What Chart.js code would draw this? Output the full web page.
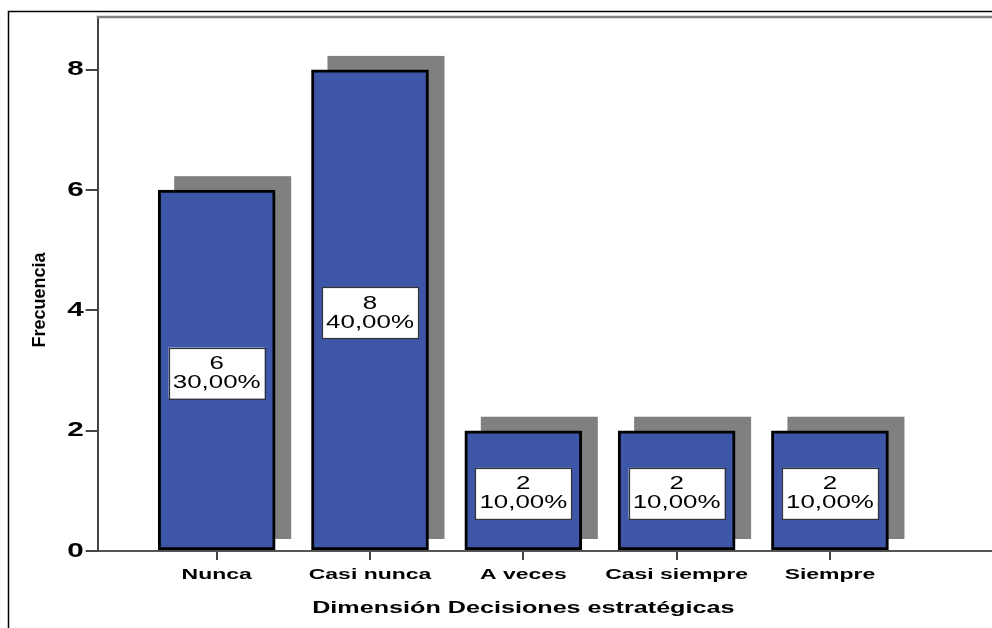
<!DOCTYPE html>
<html>
<head>
<meta charset="utf-8">
<script src="https://cdn.jsdelivr.net/npm/chart.js@4.4.1/dist/chart.umd.min.js"></script>
<style>
  html, body { margin: 0; padding: 0; background: #ffffff; }
  canvas { display: block; }
</style>
</head>
<body>
<canvas id="chart" width="992" height="628"></canvas>
<script>
// Frequency table: Dimensión Decisiones estratégicas
const categories = ['Nunca', 'Casi nunca', 'A veces', 'Casi siempre', 'Siempre'];
const frequencies = [6, 8, 2, 2, 2];
const yTickValues = [0, 2, 4, 6, 8];
const xTitle = 'Dimensión Decisiones estratégicas';
const yTitle = 'Frecuencia';

const total = frequencies.reduce((a, b) => a + b, 0);
const percentText = v => (v / total * 100).toFixed(2).replace('.', ',') + '%';

const FONT = "'Liberation Sans', Arial, sans-serif";
const TEXT_STRETCH = 1.48;   // horizontal text is drawn wide

// Wide horizontal text, outer frame, plot top border and axis titles
const framePlugin = {
  id: 'frame',
  beforeInit(chart) {
    const ctx = chart.ctx;
    const raw = ctx.fillText;
    ctx.fillText = function (text, x, y, maxWidth) {
      if (this.noStretch) {
        return maxWidth === undefined ? raw.call(this, text, x, y) : raw.call(this, text, x, y, maxWidth);
      }
      this.save();
      this.translate(x, y);
      this.scale(TEXT_STRETCH, 1);
      if (maxWidth === undefined) raw.call(this, text, 0, 0);
      else raw.call(this, text, 0, 0, maxWidth / TEXT_STRETCH);
      this.restore();
    };
  },
  beforeDraw(chart) {
    const ctx = chart.ctx;
    ctx.save();
    ctx.strokeStyle = '#000000';
    ctx.lineWidth = 1.5;
    ctx.strokeRect(8.5, 11.5, 1200, 1000);
    ctx.restore();
  },
  afterDraw(chart) {
    const ctx = chart.ctx;
    const a = chart.chartArea;
    ctx.save();
    ctx.strokeStyle = '#808080';
    ctx.lineWidth = 2.5;
    ctx.beginPath();
    ctx.moveTo(a.left - 1, a.top);
    ctx.lineTo(a.right, a.top);
    ctx.stroke();

    // vertical axis title (not widened)
    ctx.fillStyle = '#000000';
    ctx.font = "bold 18px " + FONT;
    ctx.textAlign = 'center';
    ctx.textBaseline = 'middle';
    ctx.translate(40.5, 300);
    ctx.rotate(-Math.PI / 2);
    ctx.noStretch = true;
    ctx.fillText(yTitle, 0, 0);
    ctx.noStretch = false;
    ctx.restore();

    // horizontal axis title, centred under the categories
    const xs = chart.scales.x;
    const cx = (xs.getPixelForValue(0) + xs.getPixelForValue(categories.length - 1)) / 2;
    ctx.save();
    ctx.fillStyle = '#000000';
    ctx.font = "bold 17px " + FONT;
    ctx.textAlign = 'center';
    ctx.textBaseline = 'alphabetic';
    ctx.fillText(xTitle, cx, 613);
    ctx.restore();
  }
};

// Gray drop shadow behind each bar, offset from the bar element
const shadowPlugin = {
  id: 'barShadow',
  beforeDatasetsDraw(chart) {
    const ctx = chart.ctx;
    const meta = chart.getDatasetMeta(0);
    ctx.save();
    ctx.fillStyle = '#808080';
    meta.data.forEach(bar => {
      const { x, y, base, width } = bar.getProps(['x', 'y', 'base', 'width'], true);
      const top = y - 14;
      const bottom = base - 11;
      ctx.fillRect(x - width / 2 + 16, top, width, bottom - top);
    });
    ctx.restore();
  }
};

// White value boxes: count and percentage
const valueBoxPlugin = {
  id: 'valueBoxes',
  afterDatasetsDraw(chart) {
    const ctx = chart.ctx;
    const meta = chart.getDatasetMeta(0);
    ctx.save();
    meta.data.forEach((bar, i) => {
      const { x, y, base } = bar.getProps(['x', 'y', 'base'], true);
      const cy = (y + base) / 2 + 3;
      const w = 96, h = 51;
      ctx.fillStyle = '#ffffff';
      ctx.fillRect(x - w / 2, cy - h / 2, w, h);
      ctx.strokeStyle = '#333333';
      ctx.lineWidth = 1.2;
      ctx.strokeRect(Math.round(x - w / 2) + 0.5, Math.round(cy - h / 2) + 0.5, w, h);
      ctx.fillStyle = '#000000';
      ctx.font = "17.5px " + FONT;
      ctx.textAlign = 'center';
      ctx.textBaseline = 'alphabetic';
      ctx.fillText(String(frequencies[i]), x, cy - 4);
      ctx.fillText(percentText(frequencies[i]), x, cy + 15);
    });
    ctx.restore();
  }
};

new Chart(document.getElementById('chart'), {
  type: 'bar',
  data: {
    datasets: [{
      label: 'Frecuencia',
      data: frequencies.map((v, i) => ({ x: i, y: v })),
      backgroundColor: '#3d56a8',
      borderColor: '#000000',
      borderWidth: 3,
      borderSkipped: false,
      barThickness: 117
    }]
  },
  options: {
    responsive: false,
    animation: false,
    devicePixelRatio: 1,
    layout: { padding: { top: 17, left: 0, right: 0, bottom: 0 } },
    plugins: {
      legend: { display: false },
      tooltip: { enabled: false }
    },
    scales: {
      x: {
        type: 'linear',
        offset: false,
        min: -0.776,
        max: 5.057,
        afterFit(s) { s.height = 77; },
        afterBuildTicks(s) { s.ticks = categories.map((_, i) => ({ value: i })); },
        ticks: {
          callback: v => categories[v] ?? '',
          font: { family: FONT, weight: 'bold', size: 15.5 },
          color: '#000000',
          padding: 5.5,
          autoSkip: false,
          maxRotation: 0,
          minRotation: 0
        },
        grid: { offset: false, drawOnChartArea: false, drawTicks: true, tickLength: 9, color: '#444444', lineWidth: 2 },
        border: { display: true, color: '#555555', width: 2 }
      },
      y: {
        type: 'linear',
        min: 0,
        max: 8.88,
        afterFit(s) { s.width = 97.7; },
        afterBuildTicks(s) { s.ticks = yTickValues.map(v => ({ value: v })); },
        ticks: {
          font: { family: FONT, weight: 'bold', size: 20 },
          color: '#000000',
          padding: 2,
          autoSkip: false
        },
        grid: { drawOnChartArea: false, drawTicks: true, tickLength: 12, color: '#444444', lineWidth: 2 },
        border: { display: true, color: '#444444', width: 2 }
      }
    }
  },
  plugins: [framePlugin, shadowPlugin, valueBoxPlugin]
});
</script>
</body>
</html>
